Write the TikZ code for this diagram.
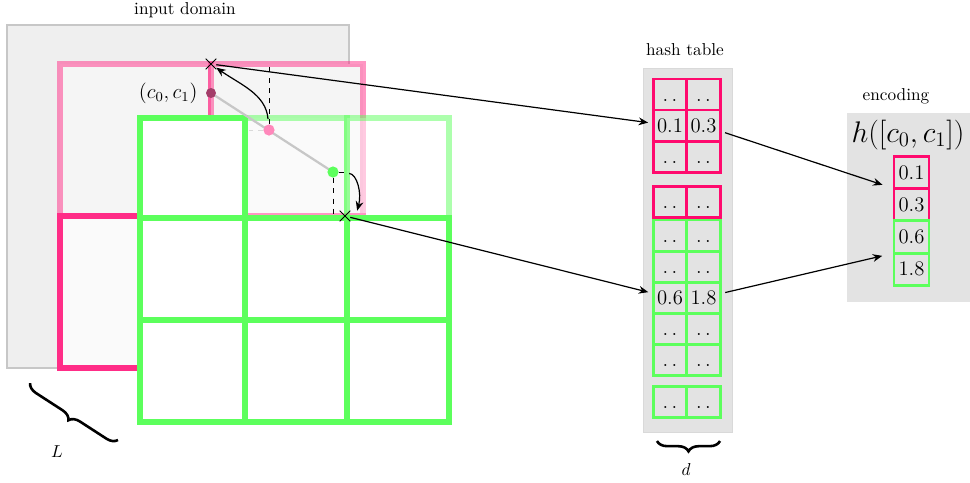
\documentclass[tikz,border=0pt]{standalone}
\usepackage{amsmath, amssymb}
\usepackage{xcolor}
\usepackage{tikz}
\usetikzlibrary{positioning, arrows.meta, shapes.misc, decorations.pathreplacing}
\definecolor{gridpink}{HTML}{FF2D87}
\definecolor{tabpink}{HTML}{FF0A6E}
\definecolor{gridgreen}{HTML}{5CFF5C}
\definecolor{domaingray}{HTML}{EFEFEF}
\definecolor{tablegray}{HTML}{E3E3E3}
\definecolor{darkdot}{HTML}{A33D69}
\definecolor{lightdot}{HTML}{FF88BB}
\tikzstyle{domainbg} = [fill=domaingray, draw=black!22, line width=0.6pt]
\tikzstyle{tablebg} = [fill=tablegray, draw=black!15, line width=0.5pt]
\tikzstyle{pinkgrid} = [draw=gridpink, line width=3.5pt]
\tikzstyle{greengrid} = [draw=gridgreen, line width=3.5pt, fill=white]
\tikzstyle{pcell} = [rectangle, draw=tabpink, line width=1.7pt, minimum width=19.4pt, minimum height=18pt, inner sep=0pt, outer sep=0pt, text height=7.7pt, text depth=0pt, font=\large]
\tikzstyle{gcell} = [pcell, draw=gridgreen]
\tikzstyle{ecell} = [pcell, minimum width=20.3pt, minimum height=18.7pt]
\tikzstyle{dot} = [circle, inner sep=0pt, minimum size=6.5pt]
\tikzstyle{hit} = [cross out, draw=black, line width=0.6pt, minimum size=5.5pt, inner sep=0pt]
\tikzstyle{arrow} = [-{Stealth[length=5.5pt, width=4.5pt]}, line width=0.7pt]
\tikzstyle{brace} = [decorate, decoration={brace, amplitude=6pt}, line width=1.5pt]

\begin{document}
\begin{tikzpicture}[x=0.58pt, y=-0.58pt]
    \useasboundingbox (0,0) rectangle (970,482);
    % input domain and the two grids
    \node (dlabel) at (185,10) {input domain};
    \draw[domainbg] (7,25) rectangle (349,368);
    \draw[pinkgrid, draw opacity=.5, fill=black!4] (60,64) rectangle (211,216);
    \draw[pinkgrid, draw opacity=.5, fill=black!4] (211,64) rectangle (363,216);
    \draw[pinkgrid, fill=black!2] (60,216) rectangle (211,368);
    \draw[pinkgrid, fill=black!2] (211,216) rectangle (363,368);
    \draw[greengrid, draw opacity=.5, fill opacity=.5] (245,118) rectangle (347,218);
    \draw[greengrid, draw opacity=.5, fill opacity=.5] (347,118) rectangle (449,218);
    \draw[greengrid] (140,118) rectangle (245,218);
    \draw[greengrid] (140,218) rectangle (245,320);
    \draw[greengrid] (245,218) rectangle (347,320);
    \draw[greengrid] (347,218) rectangle (449,320);
    \draw[greengrid] (140,320) rectangle (245,422);
    \draw[greengrid] (245,320) rectangle (347,422);
    \draw[greengrid] (347,320) rectangle (449,422);
    % query point
    \coordinate (c) at (211,93);
    \coordinate (g) at (333,172);
    \draw[black!22, line width=1.3pt] (c) -- (g);
    \node[dot, fill=darkdot, minimum size=5.8pt] (cpt) at (c) {};
    \node[dot, fill=lightdot] (ppt) at (269,130) {};
    \node[dot, fill=gridgreen] (gpt) at (g) {};
    \node[left=4.5pt of cpt, inner sep=0pt, font=\large] (clabel) {$(c_0,c_1)$};
    \coordinate (ptop) at (269,64);
    \coordinate (pleft) at (249,130);
    \coordinate (gdown) at (333,216);
    \coordinate (gright) at (346,172);
    \draw[dashed, line width=0.5pt] (ppt) -- (ptop);
    \draw[dashed, line width=0.5pt, black!15] (ppt) -- (pleft);
    \draw[dashed, line width=0.5pt] (gpt) -- (gdown);
    \draw[dashed, line width=0.5pt] (gpt) -- (gright);
    \node[hit] (x0) at (211,64) {};
    \node[hit] (x1) at (345,216) {};
    \draw[arrow, shorten <=3pt] (ppt) to[out=95, in=-35] (x0);
    \draw[arrow, shorten <=6pt] (gpt) to[out=-5, in=75, looseness=1.1] ([xshift=4pt]x1.north east);
    % hash table
    \node (tlabel) at (685,50) {hash table};
    \draw[tablebg] (643,68) rectangle (732,432);
    \node[pcell] (h1a) at (670,94.5) {$.\,.$};
    \node[pcell, right=0pt of h1a] (h1b) {$.\,.$};
    \node[pcell, below=0pt of h1a] (h2a) {$0.1$};
    \node[pcell, right=0pt of h2a] (h2b) {$0.3$};
    \node[pcell, below=0pt of h2a] (h3a) {$.\,.$};
    \node[pcell, right=0pt of h3a] (h3b) {$.\,.$};
    \node[pcell, below=8.1pt of h3a] (h4a) {$.\,.$};
    \node[pcell, right=0pt of h4a] (h4b) {$.\,.$};
    \node[gcell, below=1.7pt of h4a] (g1a) {$.\,.$};
    \node[gcell, right=0pt of g1a] (g1b) {$.\,.$};
    \node[gcell, below=0pt of g1a] (g2a) {$.\,.$};
    \node[gcell, right=0pt of g2a] (g2b) {$.\,.$};
    \node[gcell, below=0pt of g2a] (g3a) {$0.6$};
    \node[gcell, right=0pt of g3a] (g3b) {$1.8$};
    \node[gcell, below=0pt of g3a] (g4a) {$.\,.$};
    \node[gcell, right=0pt of g4a] (g4b) {$.\,.$};
    \node[gcell, below=0pt of g4a] (g5a) {$.\,.$};
    \node[gcell, right=0pt of g5a] (g5b) {$.\,.$};
    \node[gcell, below=6.4pt of g5a] (g6a) {$.\,.$};
    \node[gcell, right=0pt of g6a] (g6b) {$.\,.$};
    % encoding
    \node (elabel) at (896,96) {encoding};
    \fill[tablegray] (847,113) rectangle (970,302);
    \node[font=\LARGE] (hlabel) at (908,135) {$h([c_0,c_1])$};
    \node[ecell] (e1) at (911.5,172.5) {$0.1$};
    \node[ecell, below=0pt of e1] (e2) {$0.3$};
    \node[ecell, draw=gridgreen, below=0pt of e2] (e3) {$0.6$};
    \node[ecell, draw=gridgreen, below=0pt of e3] (e4) {$1.8$};
    % lookups
    \draw[arrow, shorten >=3pt] (x0) -- (h2a);
    \draw[arrow, shorten >=3pt] (x1) -- (g3a);
    \draw[arrow, shorten <=3pt, shorten >=7pt] (h2b) -- (e1.south west);
    \draw[arrow, shorten <=3pt, shorten >=7pt] (g3b) -- (e4.north west);
    % braces
    \coordinate (la) at (30,383);
    \coordinate (lb) at (118,440);
    \draw[brace] (lb) -- (la);
    \node (llabel) at (57,452) {$L$};
    \coordinate (da) at (657,441);
    \coordinate (db) at (720,441);
    \draw[brace] (db) -- (da);
    \node (dlabel2) at (686,470) {$d$};
\end{tikzpicture}
\end{document}
